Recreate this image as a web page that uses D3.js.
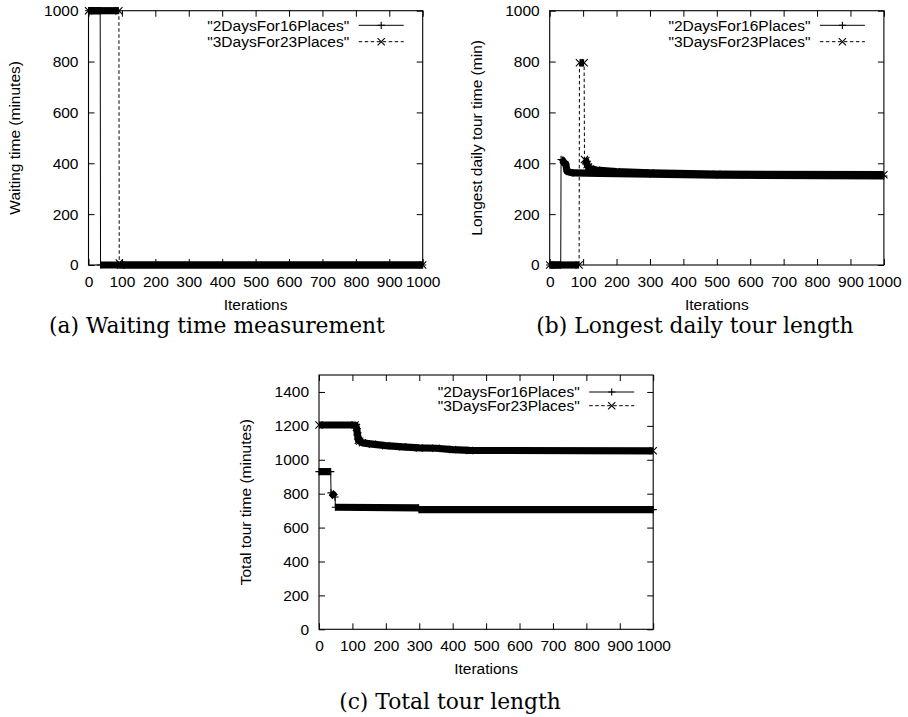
<!DOCTYPE html>
<html>
<head>
<meta charset="utf-8">
<script src="https://cdn.jsdelivr.net/npm/d3@7"></script>
<style>
  body { margin: 0; background: #fff; }
  svg text { font-family: "Liberation Sans", Arial, Helvetica, sans-serif; fill: #000; }
  svg text.caption { font-family: "DejaVu Serif", serif; }
</style>
</head>
<body>
<svg id="fig" width="908" height="717"></svg>
<script>
// tick values
const xTicks = [0, 100, 200, 300, 400, 500, 600, 700, 800, 900, 1000];
const yTicks1000 = [0, 200, 400, 600, 800, 1000];
const yTicks1500 = [0, 200, 400, 600, 800, 1000, 1200, 1400];

const seriesNames = ['"2DaysFor16Places"', '"3DaysFor23Places"'];

// [iteration, value]
// (a) waiting time
const waiting16 = [[0, 1000], [35, 1000], [36, 0], [1000, 0]];
const waiting23 = [[0, 1000], [91, 1000], [92, 8], [96, 0], [1000, 0]];
// (b) longest daily tour
const longest16 = [[0, 0], [33, 0], [34, 415], [38, 412], [44, 400], [48, 398], [52, 368], [70, 362],
  [150, 360], [300, 357], [500, 353], [1000, 350]];
const longest23 = [[0, 0], [88, 0], [89, 795], [103, 795], [104, 415], [108, 410], [112, 395], [116, 385],
  [122, 378], [140, 373], [200, 367], [300, 362], [500, 357], [1000, 355]];
// (c) total tour
const total16 = [[0, 930], [35, 930], [36, 805], [42, 795], [48, 780], [49, 720], [298, 716], [299, 706], [1000, 706]];
const total23 = [[0, 1205], [108, 1205], [112, 1190], [114, 1165], [116, 1140], [118, 1115], [122, 1110],
  [130, 1100], [160, 1092], [200, 1083], [250, 1076], [300, 1070], [350, 1068], [400, 1060], [450, 1055], [1000, 1053]];

const plotW = 334.2, plotH = 254.3;

const panels = [
  { left: 88.5, top: 10.7, yMax: 1000, yTicks: yTicks1000, ylabel: "Waiting time (minutes)",
    data: [waiting16, waiting23], legendY: [25.3, 41.7], caption: "(a) Waiting time measurement", capX: 217, capY: 325 },
  { left: 549.7, top: 10.7, yMax: 1000, yTicks: yTicks1000, ylabel: "Longest daily tour time (min)",
    data: [longest16, longest23], legendY: [25.3, 41.7], caption: "(b) Longest daily tour length", capX: 695, capY: 325 },
  { left: 319, top: 375, yMax: 1500, yTicks: yTicks1500, ylabel: "Total tour time (minutes)",
    data: [total16, total23], legendY: [392, 405.7], caption: "(c) Total tour length", capX: 450, capY: 701 }
];

const svg = d3.select('#fig');
const ms = 3.6; // marker half size

function marker(sel, kind) {
  // gnuplot style + and x point types
  sel.attr("d", kind === 0
      ? `M${-ms},0H${ms}M0,${-ms}V${ms}`
      : `M${-ms},${-ms}L${ms},${ms}M${-ms},${ms}L${ms},${-ms}`)
    .attr("fill", "none")
    .attr("stroke", "#000")
    .attr("stroke-width", 1.1);
}

// a point every iteration makes a solid strip of markers; split the
// series where two points are consecutive iterations (a jump)
function runs(pts) {
  let out = [], cur = [pts[0]];
  for (let i = 1; i < pts.length; i++) {
    if (pts[i][0] - pts[i - 1][0] > 1) cur.push(pts[i]);
    else { if (cur.length > 1) out.push(cur); cur = [pts[i]]; }
  }
  if (cur.length > 1) out.push(cur);
  return out;
}

function drawPanel(p) {
  const x = d3.scaleLinear().domain([0, 1000]).range([p.left, p.left + plotW]);
  const y = d3.scaleLinear().domain([0, p.yMax]).range([p.top + plotH, p.top]);
  const g = svg.append("g");
  const bottom = p.top + plotH, right = p.left + plotW;

  const ax = (a) => a.call(s => s.select(".domain").remove())
    .call(s => s.selectAll("line").attr("stroke", "#000"))
    .call(s => s.selectAll("text").attr("font-size", "15.5px").attr("fill", "#000"))
    .attr("font-family", null);

  g.append("g").attr("transform", `translate(0,${bottom})`)
    .call(d3.axisBottom(x).tickValues(xTicks).tickSize(-6).tickPadding(10.5).tickFormat(d3.format("d")))
    .call(ax);
  g.append("g").attr("transform", `translate(0,${p.top})`)
    .call(d3.axisTop(x).tickValues(xTicks).tickSize(-6).tickFormat(""))
    .call(ax);
  g.append("g").attr("transform", `translate(${p.left},0)`)
    .call(d3.axisLeft(y).tickValues(p.yTicks).tickSize(-6).tickPadding(10).tickFormat(d3.format("d")))
    .call(ax);
  g.append("g").attr("transform", `translate(${right},0)`)
    .call(d3.axisRight(y).tickValues(p.yTicks).tickSize(-6).tickFormat(""))
    .call(ax);

  g.append("rect")
    .attr("x", p.left).attr("y", p.top).attr("width", plotW).attr("height", plotH)
    .attr("fill", "none").attr("stroke", "#000").attr("stroke-width", 1.1);

  g.append("text")
    .attr("transform", `translate(${p.left - 73.5},${p.top + plotH / 2}) rotate(-90)`)
    .attr("text-anchor", "middle").attr("dy", "0.35em").attr("font-size", "15.5px")
    .text(p.ylabel);
  g.append("text")
    .attr("x", p.left + plotW / 2).attr("y", bottom + 39.5)
    .attr("text-anchor", "middle").attr("dy", "0.35em").attr("font-size", "15.5px")
    .text("Iterations");

  const line = d3.line().x(d => x(d[0])).y(d => y(d[1]));

  p.data.forEach((pts, k) => {
    const s = g.append("g");
    s.append("path").attr("d", line(pts))
      .attr("fill", "none").attr("stroke", "#000").attr("stroke-width", 1)
      .attr("stroke-dasharray", k === 1 ? "3.5,2.5" : null);
    s.selectAll("path.band").data(runs(pts)).join("path").attr("class", "band")
      .attr("d", line)
      .attr("fill", "none").attr("stroke", "#000").attr("stroke-width", 7.2)
      .attr("stroke-linejoin", "round");
    s.selectAll("path.pt").data(pts).join("path").attr("class", "pt")
      .attr("transform", d => `translate(${x(d[0])},${y(d[1])})`)
      .call(marker, k);
  });

  // key
  seriesNames.forEach((name, k) => {
    const ly = p.legendY[k];
    g.append("text").attr("x", right - 73.5).attr("y", ly).attr("dy", "0.35em")
      .attr("text-anchor", "end").attr("font-size", "15.5px").text(name);
    g.append("line").attr("x1", right - 64).attr("x2", right - 19).attr("y1", ly).attr("y2", ly)
      .attr("stroke", "#000").attr("stroke-width", 1)
      .attr("stroke-dasharray", k === 1 ? "3.5,2.5" : null);
    g.append("path").attr("transform", `translate(${right - 41.5},${ly})`).call(marker, k);
  });

  g.append("text").attr("class", "caption")
    .attr("x", p.capX).attr("y", p.capY).attr("dy", "0.35em")
    .attr("text-anchor", "middle").attr("font-size", "21.8px")
    .text(p.caption);
}

panels.forEach(drawPanel);
</script>
</body>
</html>
